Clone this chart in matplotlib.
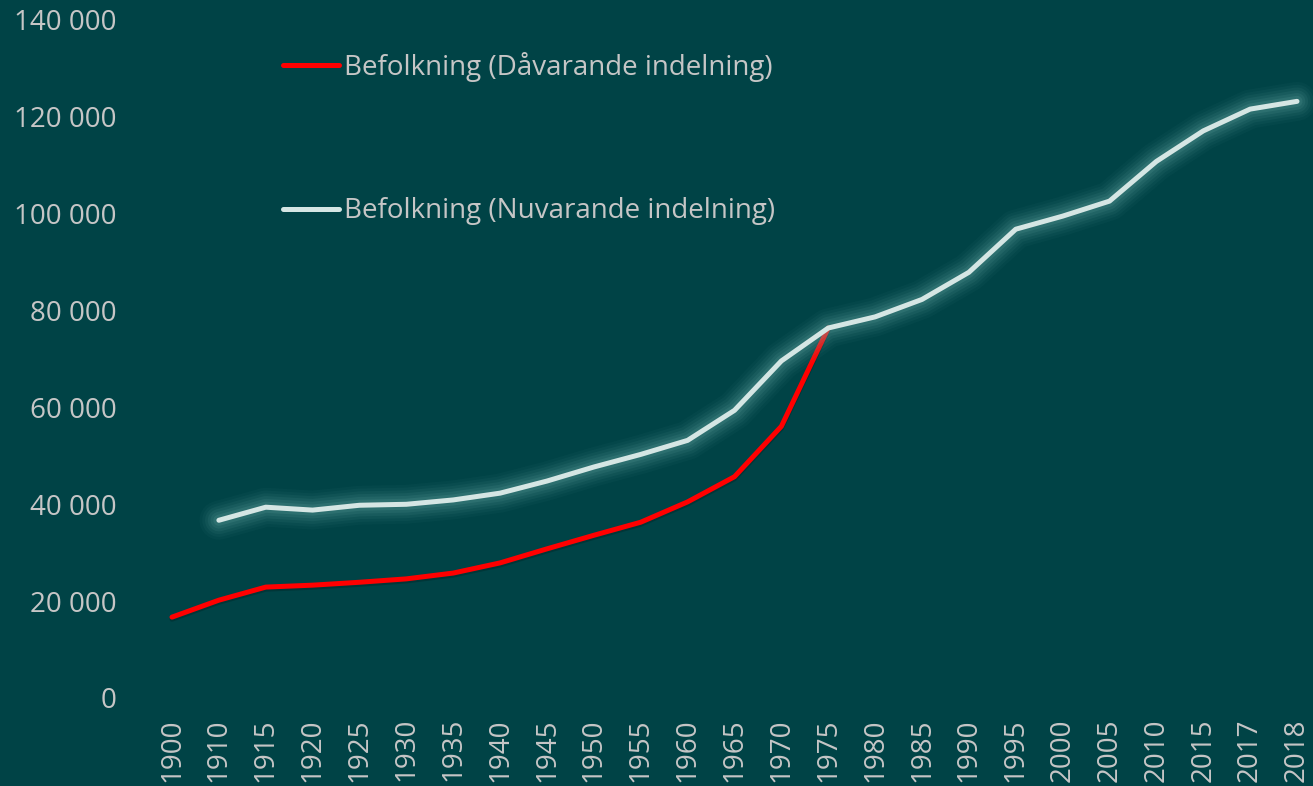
import matplotlib
matplotlib.use("Agg")
import matplotlib.pyplot as plt
import matplotlib.patheffects as pe
from matplotlib.ticker import FuncFormatter
import numpy as np

years = ["1900", "1910", "1915", "1920", "1925", "1930", "1935", "1940", "1945",
         "1950", "1955", "1960", "1965", "1970", "1975", "1980", "1985", "1990",
         "1995", "2000", "2005", "2010", "2015", "2017", "2018"]

davarande = [16700, 20200, 22900, 23300, 23900, 24600, 25800, 27900, 30800,
             33600, 36300, 40500, 45700, 56100, 76400]

nuvarande = [None, 36700, 39400, 38800, 39800, 40000, 40900, 42300, 44800,
             47700, 50300, 53200, 59400, 69600, 76400, 78700, 82300, 87900,
             96800, 99500, 102600, 110800, 117100, 121600, 123200]

label_dav = "Befolkning (Dåvarande indelning)"
label_nuv = "Befolkning (Nuvarande indelning)"

BG = "#004346"
TXT = "#c6c6c6"
FONT = "Open Sans"

plt.rcParams["font.family"] = [FONT, "DejaVu Sans"]

fig = plt.figure(figsize=(13.13, 7.86), dpi=100, facecolor=BG)
W, H = 1313, 786
ax_left, ax_right = 150, 1302
ax_bottom, ax_top = 698, 20
ax = fig.add_axes([ax_left / W, 1 - ax_bottom / H,
                   (ax_right - ax_left) / W, (ax_bottom - ax_top) / H])
ax.set_facecolor(BG)

x = np.arange(len(years))
unit = (1297 - 172) / (len(years) - 1)
ax.set_xlim(-(172 - ax_left) / unit, len(years) - 1 + (ax_right - 1297) / unit)
ax.set_ylim(0, 140000)

x_dav = x[:len(davarande)]
ax.plot(x_dav, davarande, color="#ff0000", lw=3.6, solid_capstyle="round",
        solid_joinstyle="round", label=label_dav, zorder=3, clip_on=False,
        path_effects=[pe.SimpleLineShadow(offset=(0, -1.5), shadow_color="#002a2c", alpha=0.5),
                      pe.Normal()])

nv = np.array([np.nan if v is None else v for v in nuvarande], dtype=float)
glow = []
for w, a in [(28, 0.04), (24, 0.05), (20, 0.07), (16, 0.09), (12, 0.11), (8, 0.14)]:
    glow.append(pe.Stroke(linewidth=w, foreground="#6fb3ae", alpha=a))
glow.append(pe.Normal())
ax.plot(x, nv, color="#d5e6e4", lw=3.6, solid_capstyle="round",
        solid_joinstyle="round", label=label_nuv, zorder=4, clip_on=False,
        path_effects=glow)

for s in ax.spines.values():
    s.set_visible(False)

ax.set_yticks(np.arange(0, 140001, 20000))
ax.yaxis.set_major_formatter(FuncFormatter(lambda v, p: f"{int(v):,}".replace(",", " ")))
ax.set_xticks(x)
ax.set_xticklabels(years, rotation=90)
ax.tick_params(axis="y", length=0, pad=(ax_left - 117) * 0.72, labelsize=20, labelcolor=TXT)
ax.tick_params(axis="x", length=0, pad=20 * 0.72, labelsize=20, labelcolor=TXT)
for t in ax.get_xticklabels():
    t.set_va("top")

leg = fig.legend(loc="upper left", bbox_to_anchor=(283 / W, 1 - 52 / H),
                 frameon=False, fontsize=20, labelcolor=TXT,
                 handlelength=2.0, handletextpad=0.2, labelspacing=4.15,
                 borderpad=0, borderaxespad=0)
for h in leg.legend_handles:
    h.set_path_effects([])

fig.savefig("out.png", dpi=100, facecolor=BG)
